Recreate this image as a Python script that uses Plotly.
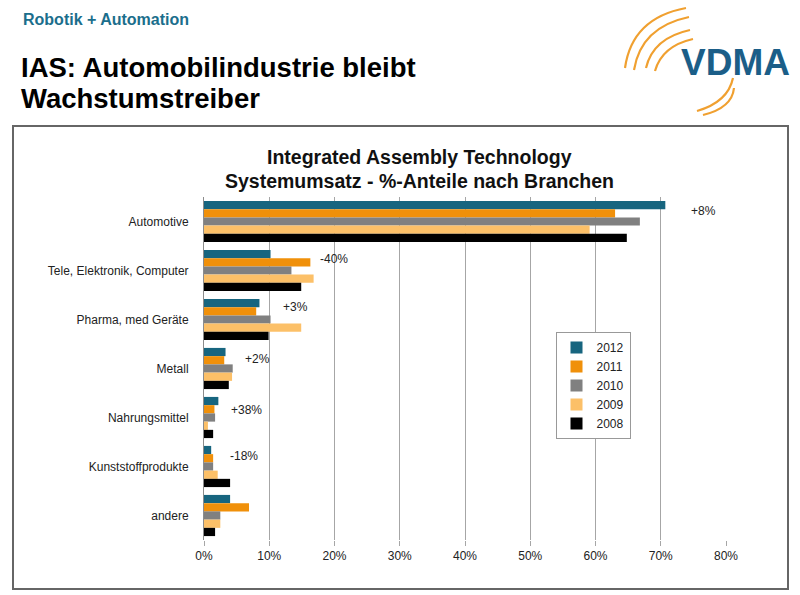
import plotly.graph_objects as go

categories = ["Automotive", "Tele, Elektronik, Computer", "Pharma, med Geräte", "Metall",
              "Nahrungsmittel", "Kunststoffprodukte", "andere"]
years = ["2012", "2011", "2010", "2009", "2008"]
v2012 = [70.7, 10.2, 8.5, 3.3, 2.2, 1.1, 4.0]
v2011 = [63.0, 16.3, 8.0, 3.1, 1.6, 1.4, 6.9]
v2010 = [66.8, 13.4, 10.2, 4.4, 1.7, 1.4, 2.5]
v2009 = [59.1, 16.8, 14.9, 4.3, 0.6, 2.1, 2.5]
v2008 = [64.8, 14.9, 9.9, 3.8, 1.4, 4.0, 1.7]
changes = ["+8%", "-40%", "+3%", "+2%", "+38%", "-18%"]
x_ticks = [0, 10, 20, 30, 40, 50, 60, 70, 80]
x_ticklabels = ["0%", "10%", "20%", "30%", "40%", "50%", "60%", "70%", "80%"]

series = [v2012, v2011, v2010, v2009, v2008]
colors = ["#17657f", "#f0900a", "#808080", "#fcc068", "#000000"]

W, H = 800, 595
ML, MR, MT, MB = 204, 74, 197, 55
PW, PH = W - ML - MR, H - MT - MB


def px(x):
    return (x - ML) / PW


def py(y):
    return (H - MB - y) / PH


fig = go.Figure()
for name, vals, col in zip(years, series, colors):
    fig.add_trace(go.Bar(y=categories, x=vals, name=name, orientation="h",
                         marker=dict(color=col, line=dict(width=0))))

font = "Liberation Sans, Arial, sans-serif"

# change labels (positions in data coords near the group)
label_pos = [(74.4, 11), (17.5, 12), (11.8, 13), (6.0, 10), (3.8, 8), (3.7, 11)]
annotations = []
for cat, txt, (xv, ys) in zip(categories, changes, label_pos):
    annotations.append(dict(x=xv, y=cat, xref="x", yref="y", text=txt, showarrow=False,
                            xanchor="left", yanchor="middle", yshift=ys,
                            font=dict(family=font, size=12, color="#222")))

# headings
annotations += [
    dict(x=px(21), y=py(20), xref="paper", yref="paper", text="<b>Robotik + Automation</b>",
         showarrow=False, xanchor="left", yanchor="middle",
         font=dict(family=font, size=16, color="#1b6e8c")),
    dict(x=px(19), y=py(67), xref="paper", yref="paper", text="<b>IAS: Automobilindustrie bleibt</b>",
         showarrow=False, xanchor="left", yanchor="middle",
         font=dict(family=font, size=27.5, color="#000")),
    dict(x=px(19), y=py(98), xref="paper", yref="paper", text="<b>Wachstumstreiber</b>",
         showarrow=False, xanchor="left", yanchor="middle",
         font=dict(family=font, size=27.5, color="#000")),
    dict(x=px(419), y=py(157), xref="paper", yref="paper", text="<b>Integrated Assembly Technology</b>",
         showarrow=False, xanchor="center", yanchor="middle",
         font=dict(family="Liberation Sans Narrow, Arial Narrow, Liberation Sans, sans-serif",
                   size=19.5, color="#111")),
    dict(x=px(419), y=py(181), xref="paper", yref="paper",
         text="<b>Systemumsatz - %-Anteile nach Branchen</b>",
         showarrow=False, xanchor="center", yanchor="middle",
         font=dict(family="Liberation Sans Narrow, Arial Narrow, Liberation Sans, sans-serif",
                   size=19.5, color="#111")),
    dict(x=px(735), y=py(62), xref="paper", yref="paper", text="<b>VDMA</b>",
         showarrow=False, xanchor="center", yanchor="middle",
         font=dict(family=font, size=37, color="#1b5e88")),
]

shapes = [
    dict(type="rect", xref="paper", yref="paper", x0=px(13), x1=px(788), y0=py(589), y1=py(126),
         line=dict(color="#666", width=2), layer="below"),
]


def arc(p0, c, p1, width=2.2):
    path = "M{},{} Q{},{} {},{}".format(px(p0[0]), py(p0[1]), px(c[0]), py(c[1]), px(p1[0]), py(p1[1]))
    return dict(type="path", xref="paper", yref="paper", path=path,
                line=dict(color="#f0a030", width=width))


shapes += [
    arc((625, 68), (632, 18), (686, 8)),
    arc((634, 70), (641, 27), (689, 17)),
    arc((646, 68), (653, 38), (690, 30)),
    arc((655, 71), (662, 46), (693, 39)),
    arc((697, 111), (728, 102), (733, 78)),
    arc((703, 115), (732, 108), (734, 88)),
]

fig.update_layout(
    width=W, height=H,
    margin=dict(l=ML, r=MR, t=MT, b=MB),
    paper_bgcolor="white", plot_bgcolor="white",
    barmode="group", bargap=0.16, bargroupgap=0,
    font=dict(family=font, size=12, color="#222"),
    xaxis=dict(range=[0, 80], tickvals=x_ticks, ticktext=x_ticklabels,
               showgrid=True, gridcolor="#a6a6a6", gridwidth=1,
               ticks="outside", ticklen=5, tickcolor="#a6a6a6",
               zeroline=False, showline=False, fixedrange=True,
               tickfont=dict(family=font, size=12, color="#222")),
    yaxis=dict(autorange="reversed", showline=True, linecolor="#8c8c8c", linewidth=1,
               ticks="", ticklabelstandoff=12,
               tickfont=dict(family=font, size=12, color="#222")),
    legend=dict(x=px(593), y=py(332), xanchor="center", yanchor="top",
                bgcolor="white", bordercolor="#999", borderwidth=1,
                font=dict(family=font, size=12, color="#222"),
                itemwidth=30, tracegroupgap=0),
    showlegend=True,
    annotations=annotations,
    shapes=shapes,
)

fig.write_html("out.html")
